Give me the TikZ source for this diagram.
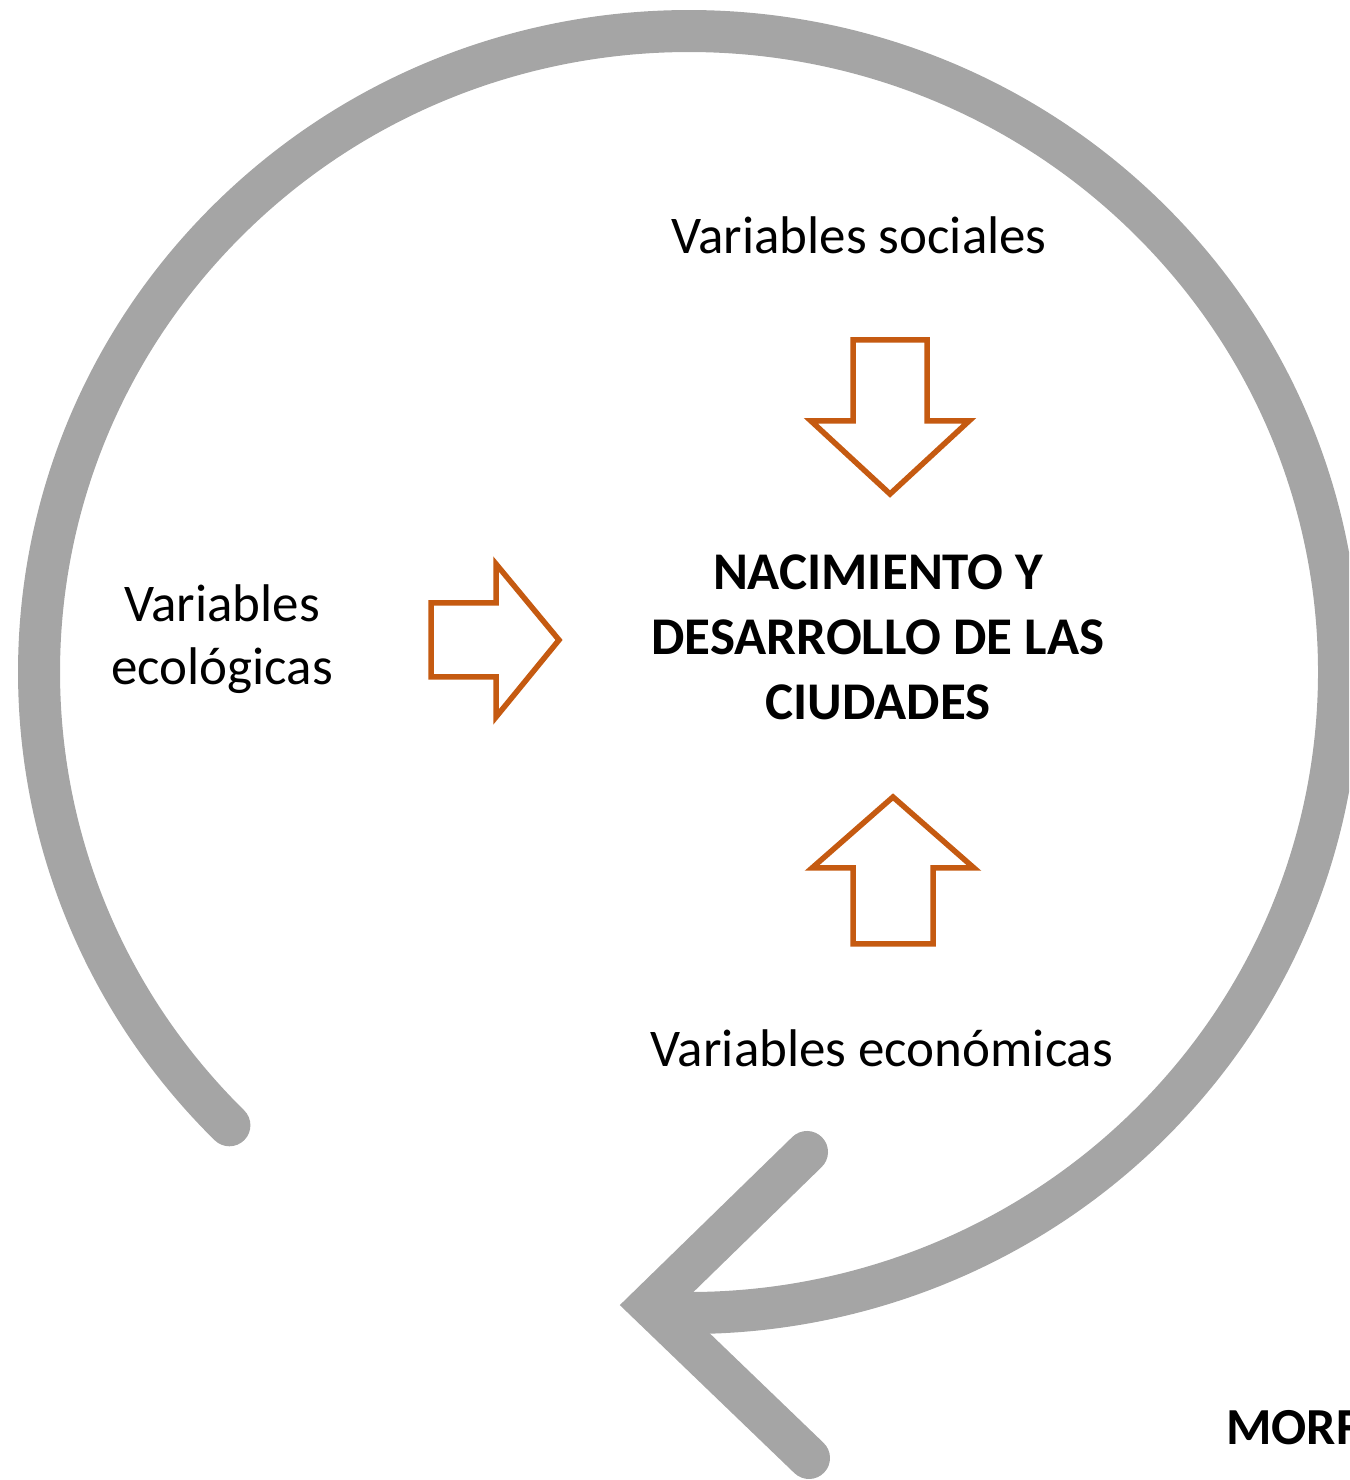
\documentclass[tikz,border=0pt]{standalone}
\usepackage{fontspec}
\setmainfont{Carlito}
\definecolor{ringgray}{RGB}{165,165,165}
\definecolor{varorange}{RGB}{197,90,17}
\begin{document}
\begin{tikzpicture}[x=1pt,y=1pt,
  ring/.style={draw=ringgray, line width=42pt, line cap=round},
  blockarrow/.style={draw=varorange, line width=5.5pt, fill=white, miter limit=10},
  lbl/.style={inner sep=0pt, font=\fontsize{53}{63}\selectfont, anchor=base, align=center},
  ttl/.style={inner sep=0pt, font=\fontsize{53}{65}\selectfont\bfseries, anchor=base, align=center}]
\useasboundingbox (0,0) rectangle (1349,1480);
\clip (0,0) rectangle (1349,1480);
% circular arrow
\coordinate (ringstart) at (229.4,354.7);
\coordinate (armtop) at (807,328);
\coordinate (tip) at (650,175);
\coordinate (armbot) at (809,22);
\draw[ring] (ringstart) arc[start angle=225, end angle=-92.5, x radius=650, y radius=641];
\draw[ring, line join=miter] (armtop) -- (tip) -- (armbot);
% block arrows
\draw[blockarrow] (853,1140) -- (927,1140) -- (927,1059) -- (969,1059) -- (890,986) -- (811,1059) -- (853,1059) -- cycle;
\draw[blockarrow] (431,877) -- (496,877) -- (496,916) -- (559,840) -- (496,763) -- (496,803) -- (431,803) -- cycle;
\draw[blockarrow] (853,536) -- (933,536) -- (933,612) -- (974,612) -- (893,683) -- (812,612) -- (853,612) -- cycle;
% texts
\node[lbl] (soc) at (859,1226) {Variables sociales};
\node[lbl] (ecol) at (222,795) {Variables\\ecológicas};
\node[ttl] (title) at (878,760) {NACIMIENTO Y\\DESARROLLO DE LAS\\CIUDADES};
\node[lbl] (econ) at (882,413) {Variables económicas};
\node[inner sep=0pt, font=\fontsize{52}{64}\selectfont\bfseries, anchor=base west] (morf) at (1226,35) {MORF};
\end{tikzpicture}
\end{document}
